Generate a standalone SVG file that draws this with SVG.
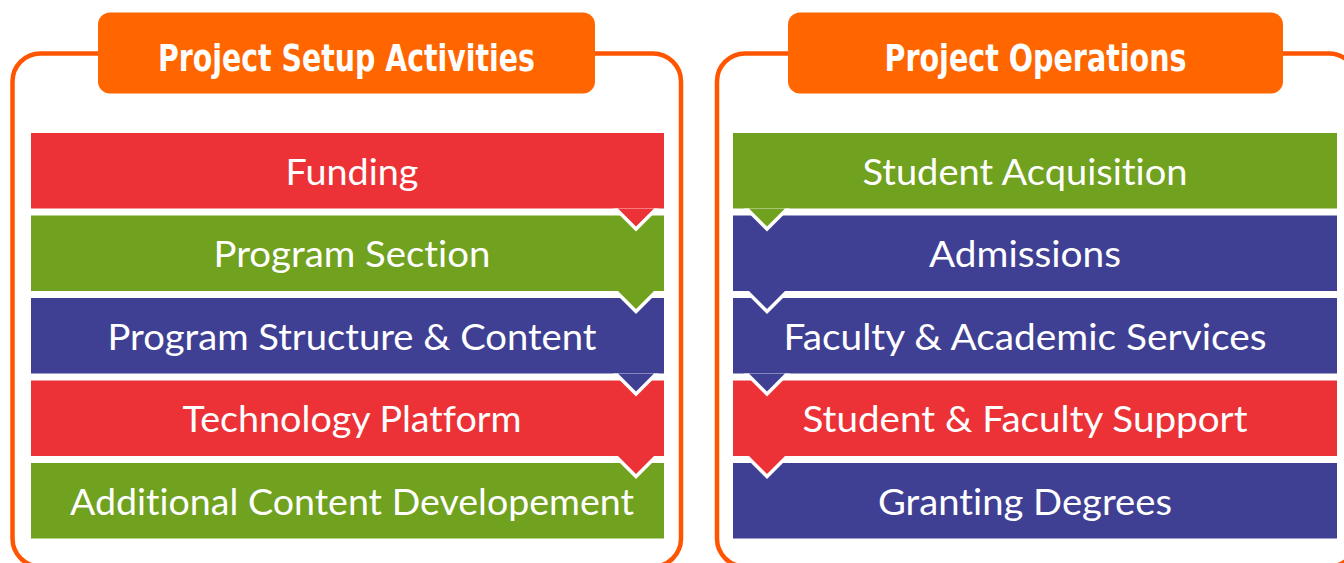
<svg xmlns="http://www.w3.org/2000/svg" width="1344" height="563" viewBox="0 0 1344 563">
<style>
.frame{fill:none;stroke:#FF5500;stroke-width:4.5}
.tab{fill:#FF6600}
.htxt{font-family:"Liberation Sans Narrow","DejaVu Sans Condensed","Liberation Sans",sans-serif;font-weight:bold;font-size:38px;fill:#FFFFFF;text-anchor:middle}
.btxt{font-family:Lato,"Open Sans","Liberation Sans",sans-serif;font-size:36px;fill:#FFFFFF;text-anchor:middle;font-variant-ligatures:none;font-feature-settings:"liga" 0,"dlig" 0}
.red{fill:#EC3237}
.green{fill:#70A11F}
.blue{fill:#3F4093}
.wv{fill:#FFFFFF}
</style>
<g id="panel-setup">
<rect class="frame" x="12.5" y="53.5" width="668.5" height="513" rx="28" ry="28"/>
<rect class="tab" x="98" y="12.5" width="497" height="81" rx="12" ry="12"/>
<text class="htxt" x="346.5" y="70.5" textLength="377" lengthAdjust="spacingAndGlyphs">Project Setup Activities</text>
</g>
<g id="panel-operations">
<rect class="frame" x="717" y="53.5" width="640" height="513" rx="28" ry="28"/>
<rect class="tab" x="788" y="12.5" width="495" height="81" rx="12" ry="12"/>
<text class="htxt" x="1035.5" y="70.5" textLength="302" lengthAdjust="spacingAndGlyphs">Project Operations</text>
</g>
<g id="setup-funding"><rect class="red" x="31" y="133" width="633" height="75.5"/><text class="btxt" x="352" y="184.5" textLength="133" lengthAdjust="spacingAndGlyphs">Funding</text></g>
<g id="setup-program-section"><rect class="green" x="31" y="215.5" width="633" height="75.5"/><text class="btxt" x="352" y="267" textLength="277" lengthAdjust="spacingAndGlyphs">Program Section</text></g>
<g id="setup-structure"><rect class="blue" x="31" y="298" width="633" height="75.5"/><text class="btxt" x="352" y="349.5" textLength="489" lengthAdjust="spacingAndGlyphs">Program Structure &amp; Content</text></g>
<g id="setup-technology"><rect class="red" x="31" y="380.5" width="633" height="75.5"/><text class="btxt" x="352" y="432" textLength="339" lengthAdjust="spacingAndGlyphs">Technology Platform</text></g>
<g id="setup-additional"><rect class="green" x="31" y="463" width="633" height="75.5"/><text class="btxt" x="352" y="514.5" textLength="564" lengthAdjust="spacingAndGlyphs">Additional Content Developement</text></g>
<g id="ops-acquisition"><rect class="green" x="733" y="133" width="604" height="75.5"/><text class="btxt" x="1025" y="184.5" textLength="325" lengthAdjust="spacingAndGlyphs">Student Acquisition</text></g>
<g id="ops-admissions"><rect class="blue" x="733" y="215.5" width="604" height="75.5"/><text class="btxt" x="1025" y="267" textLength="192" lengthAdjust="spacingAndGlyphs">Admissions</text></g>
<g id="ops-faculty"><rect class="blue" x="733" y="298" width="604" height="75.5"/><text class="btxt" x="1025" y="349.5" textLength="483" lengthAdjust="spacingAndGlyphs">Faculty &amp; Academic Services</text></g>
<g id="ops-support"><rect class="red" x="733" y="380.5" width="604" height="75.5"/><text class="btxt" x="1025" y="432" textLength="445" lengthAdjust="spacingAndGlyphs">Student &amp; Faculty Support</text></g>
<g id="ops-degrees"><rect class="blue" x="733" y="463" width="604" height="75.5"/><text class="btxt" x="1025" y="514.5" textLength="294" lengthAdjust="spacingAndGlyphs">Granting Degrees</text></g>
<g id="connectors">
<polygon class="wv" points="613,208.5 636,231.5 659,208.5"/><polygon class="red" points="618,208.5 636,226.5 654,208.5"/>
<polygon class="wv" points="613,291 636,314 659,291"/><polygon class="green" points="618,291 636,309 654,291"/>
<polygon class="wv" points="613,373.5 636,396.5 659,373.5"/><polygon class="blue" points="618,373.5 636,391.5 654,373.5"/>
<polygon class="wv" points="613,456 636,479 659,456"/><polygon class="red" points="618,456 636,474 654,456"/>
<polygon class="wv" points="744,208.5 767,231.5 790,208.5"/><polygon class="green" points="749,208.5 767,226.5 785,208.5"/>
<polygon class="wv" points="744,291 767,314 790,291"/><polygon class="blue" points="749,291 767,309 785,291"/>
<polygon class="wv" points="744,373.5 767,396.5 790,373.5"/><polygon class="blue" points="749,373.5 767,391.5 785,373.5"/>
<polygon class="wv" points="744,456 767,479 790,456"/><polygon class="red" points="749,456 767,474 785,456"/>
</g>
</svg>
